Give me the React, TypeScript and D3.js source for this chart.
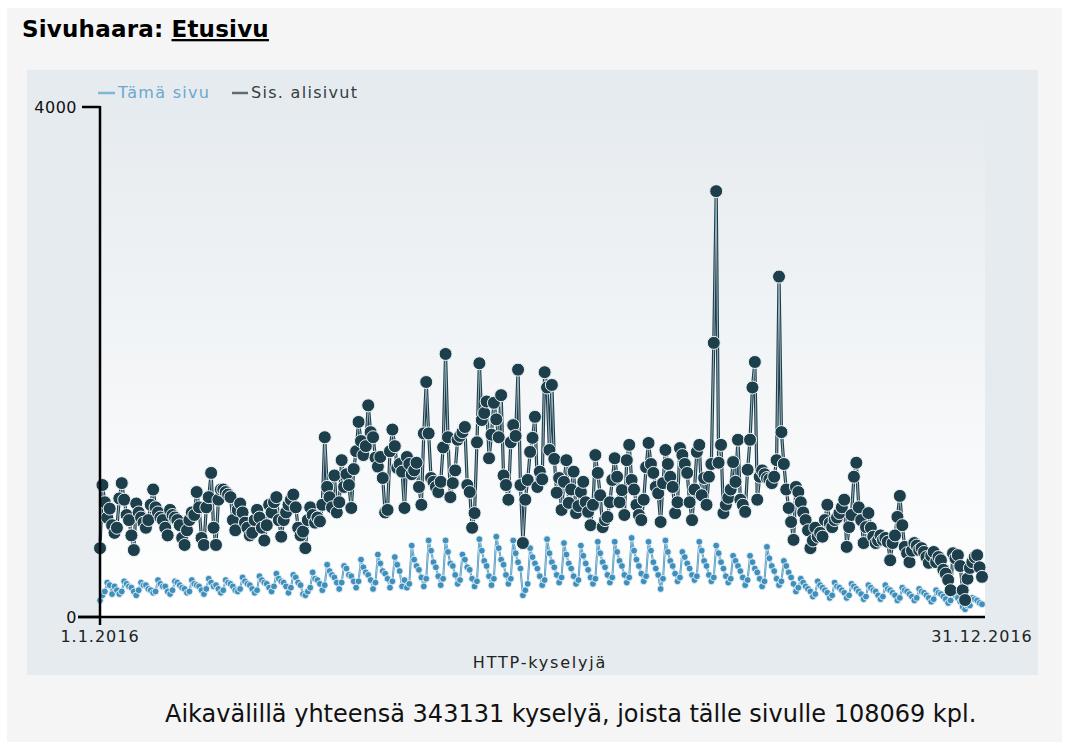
import * as d3 from "d3";

// Daily HTTP requests, 1.1.2016 – 31.12.2016
// "Tämä sivu" = the front page itself
const PAGE_HITS: number[] = [
  130, 170, 200,
  270, 250, 180, 240, 210, 180, 200,
  280, 260, 240, 230, 200, 170, 210,
  270, 250, 250, 220, 210, 190, 200,
  290, 260, 240, 240, 200, 180, 210,
  280, 270, 250, 230, 220, 190, 200,
  290, 260, 250, 240, 210, 180, 220,
  300, 270, 240, 250, 220, 190, 210,
  290, 270, 260, 240, 210, 200, 220,
  310, 280, 260, 250, 220, 190, 210,
  320, 290, 270, 260, 230, 200, 240,
  340, 300, 280, 270, 240, 190, 230,
  330, 310, 270, 250, 180, 170, 200,
  230, 350, 300, 290, 260, 210, 250,
  410, 360, 330, 310, 270, 220, 270,
  400, 380, 330, 320, 280, 230, 280,
  450, 390, 350, 330, 290, 220, 270,
  490, 420, 360, 340, 300, 230, 280,
  470, 410, 360, 240, 290, 230, 260,
  560, 450, 400, 370, 310, 240, 300,
  600, 520, 430, 390, 320, 250, 300,
  600, 510, 420, 400, 330, 260, 290,
  490, 450, 390, 370, 300, 240, 280,
  610, 520, 440, 400, 320, 250, 300,
  630, 540, 450, 410, 330, 260, 300,
  600, 500, 430, 380, 170, 210, 260,
  540, 470, 420, 380, 320, 250, 290,
  610, 500, 430, 390, 330, 270, 310,
  580, 490, 420, 380, 320, 260, 290,
  560, 480, 420, 370, 310, 260, 300,
  590, 500, 430, 390, 330, 270, 310,
  590, 510, 440, 400, 330, 270, 310,
  620, 520, 450, 400, 340, 280, 320,
  590, 520, 430, 380, 330, 220, 300,
  600, 510, 440, 400, 340, 280, 310,
  510, 470, 420, 380, 330, 290, 320,
  590, 520, 440, 400, 330, 280, 310,
  560, 500, 430, 380, 320, 270, 300,
  480, 440, 400, 360, 310, 250, 290,
  480, 430, 380, 350, 300, 240, 280,
  550, 460, 400, 360, 300, 250, 280,
  440, 400, 350, 310, 260, 200, 230,
  300, 270, 240, 220, 200, 160, 180,
  280, 250, 230, 210, 190, 150, 170,
  270, 240, 230, 210, 190, 150, 170,
  260, 240, 220, 200, 180, 140, 160,
  250, 230, 210, 200, 170, 140, 160,
  250, 220, 210, 190, 170, 130, 150,
  230, 210, 200, 180, 160, 130, 150,
  220, 200, 190, 170, 150, 120, 140,
  210, 190, 180, 160, 140, 110, 130,
  190, 170, 150, 120, 80, 60, 90,
  90, 150, 140, 130, 110, 100,
];

// "Sis. alisivut" = page including its subpages
const SUBTREE_HITS: number[] = [
  540, 1035, 900, 780, 850, 720, 660, 700, 930, 1050,
  920, 800, 760, 640, 525, 890, 820, 780, 740, 700,
  760, 880, 1000, 860, 820, 780, 760, 700, 640, 840,
  800, 780, 760, 720, 620, 565, 680, 760, 820, 800,
  980, 860, 620, 565, 860, 940, 1130, 700, 565, 920,
  1000, 1000, 980, 960, 940, 760, 680, 840, 890, 820,
  740, 700, 640, 660, 760, 840, 780, 700, 600, 720,
  880, 820, 900, 940, 760, 630, 760, 820, 880, 920,
  960, 860, 700, 640, 670, 540, 760, 860, 800, 740,
  780, 750, 880, 1410, 1020, 940, 860, 1110, 820, 900,
  1230, 1020, 1120, 1035, 855, 1160, 1300, 1530, 1380, 1270,
  1340, 1660, 1450, 1410, 1250, 1180, 1255, 1090, 820, 840,
  1300, 1470, 1340, 1170, 1200, 1140, 855, 1255, 1200, 1120,
  1150, 1210, 1020, 880, 1440, 1843, 1440, 1090, 1060, 1020,
  980, 1060, 1330, 2063, 1410, 940, 1050, 1150, 1390, 1420,
  1450, 1490, 1035, 980, 700, 815, 1370, 1990, 1545, 1600,
  1690, 1245, 1430, 1680, 1550, 1410, 1740, 1110, 1035, 920,
  1370, 1505, 1420, 1940, 1035, 580, 920, 1075, 1295, 1405,
  1570, 1020, 1140, 1080, 1920, 1800, 1310, 1820, 1240, 975,
  1090, 840, 1060, 1230, 895, 1000, 1140, 815, 870, 980,
  1060, 900, 825, 720, 880, 1270, 1130, 955, 705, 760,
  785, 900, 1075, 1245, 1100, 900, 995, 800, 1230, 1350,
  1075, 1000, 880, 800, 760, 920, 1175, 1365, 1200, 1130,
  1020, 970, 745, 1050, 1310, 1200, 1100, 1020, 815, 900,
  1325, 1270, 1200, 1130, 900, 760, 1000, 1295, 1350, 955,
  1090, 880, 1100, 1200, 2150, 3340, 1210, 1350, 815, 880,
  935, 1000, 1215, 1060, 1390, 920, 880, 825, 1155, 1390,
  1800, 2000, 920, 1100, 1150, 1120, 1090, 1080, 1050, 1100,
  1230, 2670, 1450, 1200, 1000, 855, 745, 605, 1020, 980,
  900, 820, 760, 680, 540, 600, 700, 630, 660, 630,
  760, 880, 735, 705, 760, 780, 815, 860, 920, 550,
  705, 800, 1100, 1210, 860, 760, 580, 705, 815, 700,
  630, 580, 600, 640, 605, 620, 590, 445, 580, 640,
  785, 950, 720, 550, 500, 430, 520, 580, 560, 525,
  540, 510, 470, 425, 480, 510, 430, 470, 445, 370,
  340, 290, 210, 500, 460, 485, 400, 210, 133, 300,
  385, 430, 470, 485, 390, 315,
];

const SERIES_NAMES = ["Tämä sivu", "Sis. alisivut"];
const Y_TICKS = [0, 4000];
const X_TICK_DATES = [new Date(2016, 0, 1), new Date(2016, 11, 31)];
const X_TICK_LABELS = ["1.1.2016", "31.12.2016"];
const AXIS_TITLE = "HTTP-kyselyjä";
const SUMMARY = "Aikavälillä yhteensä 343131 kyselyä, joista tälle sivulle 108069 kpl.";

const FONT = "'DejaVu Sans', Verdana, sans-serif";
const LIGHT = "#3f8fbd";
const DARK = "#1d3f4c";

// plot box
const PL = 100, PR = 982, PT = 107, PB = 617;

export default function App() {
  const start = X_TICK_DATES[0];
  const dates = SUBTREE_HITS.map((_, i) => d3.timeDay.offset(start, i));

  const x = d3.scaleTime().domain(X_TICK_DATES).range([PL, PR]);
  const y = d3.scaleLinear().domain([0, 4000]).range([PB, PT]);

  const line = d3.line<number>()
    .x((_, i) => x(dates[i]))
    .y((v) => y(v));

  const lightPath = line(PAGE_HITS) ?? "";
  const darkPath = line(SUBTREE_HITS) ?? "";

  return (
    <div style={{ position: "absolute", left: 0, top: 0 }}>
      <svg width={1065} height={747} style={{ display: "block", fontFamily: FONT }}>
        <defs>
          <linearGradient id="plotBg" x1="0" y1="0" x2="0" y2="1">
            <stop offset="0" stopColor="#e6ebef" />
            <stop offset="1" stopColor="#ffffff" />
          </linearGradient>
        </defs>
        <rect width={1065} height={747} fill="#ffffff" />
        <rect x={7} y={8} width={1055} height={734} fill="#f5f5f5" />

        {/* title */}
        <text x={22} y={37} fontSize={23} fontWeight="bold" letterSpacing={0.2} fill="#000">
          Sivuhaara: <tspan textDecoration="underline">Etusivu</tspan>
        </text>

        {/* chart panel */}
        <rect x={27} y={70} width={1011} height={605} fill="#e6ebef" />
        <rect x={PL} y={PT} width={PR + 3 - PL} height={PB - PT} fill="url(#plotBg)" />

        {/* legend */}
        <line x1={98} x2={115} y1={93} y2={93} stroke="#7fb6d6" strokeWidth={2.5} />
        <text x={118} y={98} fontSize={16} letterSpacing={1.3} fill="#6aa8cf">{SERIES_NAMES[0]}</text>
        <line x1={232} x2={248} y1={93} y2={93} stroke="#5f6d73" strokeWidth={2.5} />
        <text x={251} y={98} fontSize={16} letterSpacing={1.3} fill="#333d42">{SERIES_NAMES[1]}</text>

        {/* series: this page */}
        <path d={lightPath} fill="none" stroke={LIGHT} strokeWidth={2} />
        <path d={lightPath} fill="none" stroke="#cfe3ee" strokeWidth={0.6} />
        {PAGE_HITS.map((v, i) => (
          <circle key={"l" + i} cx={x(dates[i])} cy={y(v)} r={3.4}
            fill={LIGHT} stroke="#f4f8fa" strokeWidth={0.8} />
        ))}

        {/* series: with subpages */}
        <path d={darkPath} fill="none" stroke={DARK} strokeWidth={3.2} />
        <path d={darkPath} fill="none" stroke="#9fb4bd" strokeWidth={1} />
        {SUBTREE_HITS.map((v, i) => (
          <circle key={"d" + i} cx={x(dates[i])} cy={y(v)} r={6.5}
            fill={DARK} stroke="#eef3f5" strokeWidth={1} />
        ))}

        {/* y axis */}
        <line x1={PL} x2={PL} y1={PT - 1} y2={PB} stroke="#000" strokeWidth={2.5} />
        {Y_TICKS.map((t) => (
          <g key={t}>
            <line x1={t === 0 ? 78 : 82} x2={PL} y1={y(t)} y2={y(t)} stroke="#000" strokeWidth={2.5} />
            <text x={77} y={y(t) + 6} fontSize={16} letterSpacing={0.5} textAnchor="end" fill="#111">{t}</text>
          </g>
        ))}

        {/* x axis */}
        <line x1={78} x2={PR + 3} y1={PB} y2={PB} stroke="#000" strokeWidth={2.5} />
        <line x1={PL} x2={PL} y1={PB} y2={PB + 8} stroke="#000" strokeWidth={2.5} />
        {X_TICK_DATES.map((d, i) => (
          <text key={i} x={x(d)} y={642} fontSize={16} letterSpacing={1} textAnchor="middle" fill="#222">
            {X_TICK_LABELS[i]}
          </text>
        ))}
        <text x={540} y={668} fontSize={16} letterSpacing={1.8} textAnchor="middle" fill="#222">{AXIS_TITLE}</text>

        {/* summary */}
        <text x={165} y={722} fontSize={24} fill="#111">{SUMMARY}</text>
      </svg>
    </div>
  );
}
